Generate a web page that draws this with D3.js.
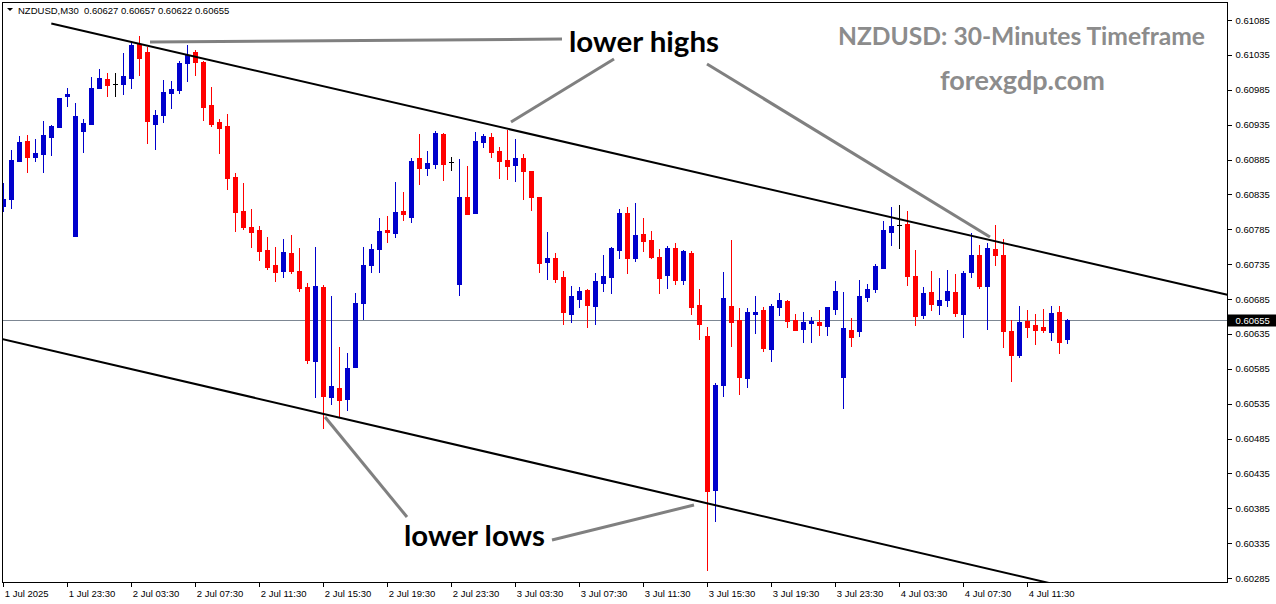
<!DOCTYPE html>
<html><head><meta charset="utf-8">
<script src="https://cdn.jsdelivr.net/npm/d3@7"></script>
<style>body{margin:0;background:#fff;} svg{display:block;}</style>
</head><body><svg id="c" width="1276" height="604"></svg>
<script>
// ---- data (NZDUSD M30, one entry per bar) ----
const openP=[0.60818,0.60828,0.60883,0.60912,0.60889,0.60893,0.60917,0.60932,0.60976,0.60775,
0.60926,0.60936,0.60988,0.61000,0.60993,0.60993,0.61002,0.61051,0.61039,0.60936,
0.60949,0.60980,0.60985,0.61023,0.61039,0.61025,0.60963,0.60939,0.60933,0.60860,
0.60811,0.60788,0.60784,0.60755,0.60734,0.60725,0.60751,0.60725,0.60702,0.60596,
0.60702,0.60545,0.60557,0.60542,0.60588,0.60679,0.60734,0.60757,0.60784,0.60780,
0.60811,0.60803,0.60887,0.60873,0.60879,0.60922,0.60881,0.60707,0.60831,0.60808,
0.60910,0.60917,0.60897,0.60884,0.60877,0.60887,0.60869,0.60831,0.60738,0.60744,
0.60717,0.60664,0.60685,0.60698,0.60675,0.60708,0.60717,0.60755,0.60808,0.60744,
0.60778,0.60770,0.60745,0.60719,0.60758,0.60712,0.60751,0.60676,0.60632,0.60411,
0.60562,0.60675,0.60655,0.60572,0.60664,0.60669,0.60613,0.60674,0.60682,0.60655,
0.60642,0.60651,0.60652,0.60646,0.60671,0.60573,0.60641,0.60639,0.60688,0.60699,
0.60729,0.60781,0.60791,0.60793,0.60718,0.60662,0.60695,0.60676,0.60684,0.60695,
0.60664,0.60724,0.60748,0.60704,0.60757,0.60748,0.60639,0.60605,0.60653,0.60648,
0.60645,0.60638,0.60666,0.60627];
const highP=[0.60851,0.60899,0.60919,0.60920,0.60914,0.60940,0.60934,0.60973,0.60988,0.60966,
0.60943,0.61003,0.61015,0.61009,0.61009,0.61038,0.61052,0.61062,0.61046,0.60956,
0.60999,0.60998,0.61026,0.61049,0.61042,0.61026,0.60989,0.60943,0.60950,0.60866,
0.60851,0.60814,0.60790,0.60774,0.60760,0.60771,0.60777,0.60758,0.60708,0.60760,
0.60705,0.60689,0.60616,0.60608,0.60694,0.60760,0.60764,0.60801,0.60804,0.60853,
0.60838,0.60887,0.60922,0.60897,0.60926,0.60923,0.60889,0.60886,0.60876,0.60924,
0.60922,0.60923,0.60903,0.60927,0.60914,0.60893,0.60869,0.60831,0.60781,0.60751,
0.60725,0.60704,0.60702,0.60699,0.60722,0.60748,0.60760,0.60814,0.60817,0.60823,
0.60801,0.60782,0.60757,0.60761,0.60765,0.60755,0.60754,0.60699,0.60645,0.60565,
0.60724,0.60770,0.60672,0.60672,0.60689,0.60674,0.60678,0.60694,0.60684,0.60664,
0.60666,0.60659,0.60669,0.60674,0.60711,0.60695,0.60658,0.60712,0.60707,0.60735,
0.60797,0.60817,0.60820,0.60811,0.60755,0.60702,0.60725,0.60715,0.60727,0.60721,
0.60725,0.60780,0.60762,0.60765,0.60791,0.60771,0.60655,0.60675,0.60669,0.60664,
0.60671,0.60675,0.60675,0.60657];
const lowP=[0.60811,0.60815,0.60883,0.60867,0.60883,0.60867,0.60891,0.60932,0.60962,0.60775,
0.60896,0.60936,0.60988,0.60976,0.60976,0.60979,0.60988,0.61006,0.60909,0.60900,
0.60939,0.60959,0.60980,0.60998,0.61006,0.60942,0.60933,0.60894,0.60843,0.60782,
0.60785,0.60760,0.60741,0.60728,0.60711,0.60717,0.60722,0.60696,0.60593,0.60545,
0.60500,0.60535,0.60516,0.60526,0.60588,0.60656,0.60724,0.60724,0.60767,0.60774,
0.60798,0.60795,0.60850,0.60863,0.60873,0.60856,0.60870,0.60691,0.60807,0.60808,
0.60903,0.60889,0.60858,0.60857,0.60854,0.60828,0.60813,0.60724,0.60714,0.60709,
0.60649,0.60652,0.60674,0.60645,0.60649,0.60696,0.60694,0.60744,0.60722,0.60739,
0.60754,0.60744,0.60694,0.60701,0.60707,0.60707,0.60664,0.60628,0.60297,0.60367,
0.60546,0.60618,0.60549,0.60559,0.60636,0.60610,0.60596,0.60662,0.60645,0.60641,
0.60623,0.60623,0.60633,0.60633,0.60664,0.60529,0.60618,0.60632,0.60682,0.60695,
0.60729,0.60762,0.60758,0.60705,0.60648,0.60658,0.60669,0.60664,0.60675,0.60661,
0.60631,0.60717,0.60701,0.60642,0.60734,0.60616,0.60568,0.60602,0.60631,0.60620,
0.60638,0.60626,0.60608,0.60622];
const closeP=[0.60828,0.60884,0.60910,0.60889,0.60894,0.60920,0.60933,0.60973,0.60979,0.60947,
0.60937,0.60988,0.61002,0.60992,0.60993,0.61005,0.61049,0.61031,0.60940,0.60949,
0.60982,0.60986,0.61023,0.61035,0.61025,0.60960,0.60936,0.60930,0.60858,0.60810,
0.60788,0.60781,0.60754,0.60731,0.60724,0.60752,0.60725,0.60701,0.60598,0.60704,
0.60546,0.60560,0.60540,0.60586,0.60679,0.60734,0.60757,0.60782,0.60781,0.60810,
0.60807,0.60883,0.60873,0.60880,0.60923,0.60879,0.60881,0.60831,0.60807,0.60912,
0.60919,0.60896,0.60883,0.60876,0.60887,0.60869,0.60831,0.60737,0.60744,0.60714,
0.60666,0.60689,0.60696,0.60676,0.60711,0.60718,0.60758,0.60808,0.60744,0.60777,
0.60768,0.60745,0.60715,0.60758,0.60712,0.60754,0.60674,0.60649,0.60410,0.60562,
0.60686,0.60652,0.60573,0.60666,0.60666,0.60615,0.60675,0.60684,0.60653,0.60641,
0.60652,0.60653,0.60648,0.60674,0.60696,0.60643,0.60631,0.60689,0.60699,0.60732,
0.60784,0.60790,0.60791,0.60718,0.60661,0.60694,0.60678,0.60684,0.60696,0.60665,
0.60722,0.60748,0.60704,0.60758,0.60748,0.60639,0.60605,0.60652,0.60645,0.60641,
0.60641,0.60665,0.60623,0.60655];

const timeTickBars=[0,8,16,24,32,40,48,56,64,72,80,88,96,104,112,120,128];
const timeTickLabels=["1 Jul 2025","1 Jul 23:30","2 Jul 03:30","2 Jul 07:30","2 Jul 11:30","2 Jul 15:30",
"2 Jul 19:30","2 Jul 23:30","3 Jul 03:30","3 Jul 07:30","3 Jul 11:30","3 Jul 15:30","3 Jul 19:30",
"3 Jul 23:30","4 Jul 03:30","4 Jul 07:30","4 Jul 11:30"];
const priceTicks=[0.60285,0.60335,0.60385,0.60435,0.60485,0.60535,0.60585,0.60635,0.60685,
0.60735,0.60785,0.60835,0.60885,0.60935,0.60985,0.61035,0.61085];
const symbolLabel="NZDUSD,M30";
const lastPrice=0.60655;
// channel lines: [bar, price] anchors
const upperChannel=[[6,0.61080],[153,0.60691]];
const lowerChannel=[[-1,0.60630],[140,0.60253]];
const titleText="NZDUSD: 30-Minutes Timeframe";
const siteText="forexgdp.com";
const highsText="lower highs";
const lowsText="lower lows";

// ---- drawing ----
const svg=d3.select("#c");
const W=1276,H=604;
const L=2.5,T=2.5,R=1227.5,B=582.5;
const x=d3.scaleLinear().domain([0,153]).range([3.3,1227.3]);
const y=d3.scaleLinear().domain([0.60285,0.61085]).range([578,20]);
const AXF="Liberation Sans, Arial, sans-serif";

svg.append("rect").attr("width",W).attr("height",H).attr("fill","#fff");
svg.append("defs").append("clipPath").attr("id","plot")
  .append("rect").attr("x",L).attr("y",T).attr("width",R-L).attr("height",B-T);

const plot=svg.append("g").attr("clip-path","url(#plot)");

// bid line
plot.append("line").attr("x1",L).attr("x2",R)
  .attr("y1",Math.round(y(lastPrice))+0.5).attr("y2",Math.round(y(lastPrice))+0.5)
  .attr("stroke","#7d8793").attr("stroke-width",1).attr("shape-rendering","crispEdges");

// candles
const BLUE="#0000cc",RED="#ff0000";
const bars=openP.map((o,i)=>({i,o,h:highP[i],l:lowP[i],c:closeP[i]}));
const cg=plot.append("g").attr("shape-rendering","crispEdges");
bars.forEach(d=>{
  const cx=Math.round(x(d.i));
  const col=d.c>d.o?BLUE:(d.c<d.o?RED:"#000");
  cg.append("line").attr("x1",cx+0.5).attr("x2",cx+0.5)
    .attr("y1",Math.round(y(d.h))).attr("y2",Math.round(y(d.l))+1)
    .attr("stroke",col).attr("stroke-width",1);
  const yt=Math.round(y(Math.max(d.o,d.c))), yb=Math.round(y(Math.min(d.o,d.c)));
  if(d.c===d.o){
    cg.append("line").attr("x1",cx-2).attr("x2",cx+3).attr("y1",yt+0.5).attr("y2",yt+0.5)
      .attr("stroke","#000").attr("stroke-width",1);
  } else {
    cg.append("rect").attr("x",cx-2).attr("y",yt).attr("width",5).attr("height",Math.max(1,yb-yt+1))
      .attr("fill",col);
  }
});

// channel lines
const line=d3.line().x(d=>x(d[0])).y(d=>y(d[1]));
[upperChannel,lowerChannel].forEach(pts=>{
  plot.append("path").attr("d",line(pts)).attr("fill","none")
    .attr("stroke","#000").attr("stroke-width",2);
});

// annotation pointer lines
const pointers=[[[150,42],[562,39]],[[614,59],[511,122]],[[707,64],[990,237]],
  [[325,417],[407,517]],[[552,540],[694,505]]];
pointers.forEach(p=>{
  svg.append("line").attr("x1",p[0][0]).attr("y1",p[0][1]).attr("x2",p[1][0]).attr("y2",p[1][1])
    .attr("stroke","#808080").attr("stroke-width",3);
});

// frame
svg.append("rect").attr("x",L).attr("y",T).attr("width",R-L).attr("height",B-T)
  .attr("fill","none").attr("stroke","#000").attr("stroke-width",1).attr("shape-rendering","crispEdges");

// right price axis
const ay=svg.append("g").attr("transform",`translate(${R},0)`)
  .call(d3.axisRight(y).tickValues(priceTicks).tickFormat(d3.format(".5f")).tickSize(4).tickPadding(4));
ay.select(".domain").remove();
ay.selectAll("line").attr("stroke","#000").attr("shape-rendering","crispEdges");
ay.selectAll("text").attr("font-family",AXF).attr("font-size","9.5px").attr("fill","#000");

// current price box
const yl=Math.round(y(lastPrice))+0.5;
svg.append("rect").attr("x",R+0.5).attr("y",yl-6).attr("width",W-R).attr("height",12).attr("fill","#000");
svg.append("text").attr("x",R+8).attr("y",yl+3.5).text(d3.format(".5f")(lastPrice))
  .attr("font-family",AXF).attr("font-size","9.5px").attr("fill","#fff");

// bottom time axis
const ax=svg.append("g").attr("transform",`translate(0,${B})`)
  .call(d3.axisBottom(x).tickValues(timeTickBars).tickFormat((d,k)=>timeTickLabels[k]).tickSize(4));
ax.select(".domain").remove();
ax.selectAll(".tick line").attr("stroke","#000").attr("transform","translate(-0.3,0)").attr("shape-rendering","crispEdges");
ax.selectAll("text").attr("text-anchor","start").attr("x",1).attr("y",8).attr("dy","0.71em")
  .attr("font-family",AXF).attr("font-size","9.5px").attr("fill","#000");

// header
svg.append("path").attr("d","M7,8 L13,8 L10,11 Z").attr("fill","#000");
const f5=d3.format(".5f");
svg.append("text").attr("x",18).attr("y",14).attr("xml:space","preserve")
  .attr("font-family",AXF).attr("font-size","9.5px").attr("fill","#000")
  .text(`${symbolLabel}  ${f5(openP[133])} ${f5(highP[133])} ${f5(lowP[133])} ${f5(closeP[133])}`);

// big labels, fitted to width
function fitText(str,x0,x1,base,color,fs0){
  const t=svg.append("text").attr("x",x0).attr("y",base).text(str)
    .attr("font-family","Lato, 'Open Sans', sans-serif").attr("font-weight","700")
    .attr("font-size",fs0+"px").attr("fill",color);
  const w=t.node().getComputedTextLength();
  t.attr("font-size",(fs0*(x1-x0)/w).toFixed(2)+"px");
}
fitText(titleText,838,1205,45,"#8c8c8c",24);
fitText(siteText,940,1105,90,"#8c8c8c",22);
fitText(highsText,569,719,52,"#000",28);
fitText(lowsText,404,545,546,"#000",28);
</script></body></html>
